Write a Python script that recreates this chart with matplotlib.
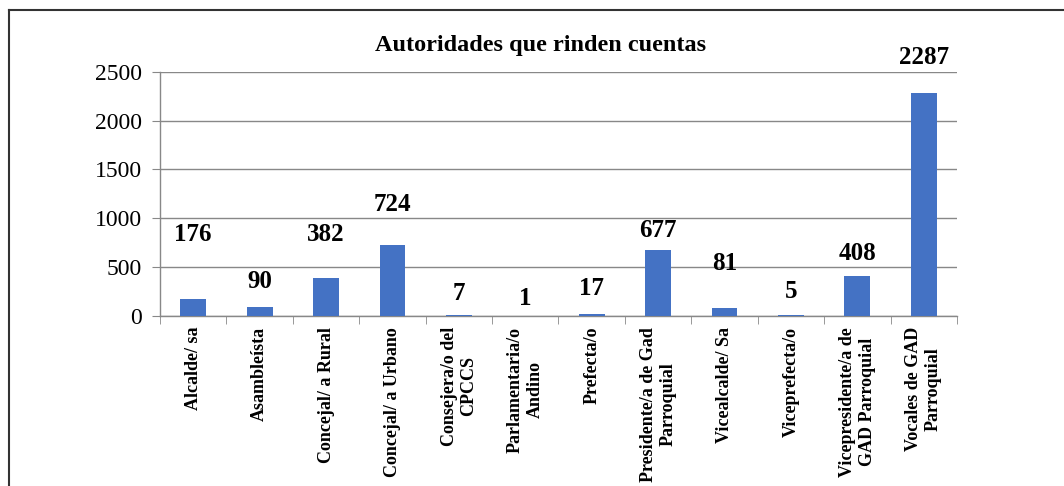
import matplotlib
matplotlib.use("Agg")
import matplotlib.pyplot as plt
from matplotlib.lines import Line2D

categories = ["Alcalde/ sa", "Asambleísta", "Concejal/ a Rural", "Concejal/ a Urbano",
              "Consejera/o del\nCPCCS", "Parlamentaria/o\nAndino", "Prefecta/o",
              "Presidente/a de Gad\nParroquial", "Vicealcalde/ Sa", "Viceprefecta/o",
              "Vicepresidente/a de\nGAD Parroquial", "Vocales de GAD\nParroquial"]
values = [176, 90, 382, 724, 7, 1, 17, 677, 81, 5, 408, 2287]
# where each value label sits (data units), as placed in the original
label_y = [828, 349, 828, 1136, 230, 178, 281, 879, 537, 246, 633, 2651]

plt.rcParams["font.family"] = ["Liberation Serif", "DejaVu Serif"]

fig = plt.figure(figsize=(10.64, 4.86), dpi=100)
ax = fig.add_axes([0.1504, 0.3504, 0.7490, 0.5015])

x = list(range(len(values)))
ax.bar(x, values, width=0.39, color="#4472C4", zorder=3)
for xi, v, ly in zip(x, values, label_y):
    ax.text(xi, ly, str(v), ha="center", va="center", fontsize=18, fontweight="bold", zorder=4)

ax.set_xlim(-0.5, len(values) - 0.5)
ax.set_ylim(0, 2500)
ax.set_yticks(range(0, 2501, 500))
ax.tick_params(axis="y", labelsize=17, length=6, color="#888888", pad=7)
ax.yaxis.grid(True, color="#888888", linewidth=1, zorder=0)

ax.set_xticks(x)
ax.set_xticklabels(categories, rotation=90, fontsize=13, fontweight="bold",
                   ha="center", va="top", multialignment="center")
ax.tick_params(axis="x", length=0, pad=8)
ax.set_xticks([i - 0.5 for i in range(len(values) + 1)], minor=True)
ax.tick_params(axis="x", which="minor", length=6, color="#888888")

for s in ("top", "right"):
    ax.spines[s].set_visible(False)
for s in ("left", "bottom"):
    ax.spines[s].set_color("#888888")
    ax.spines[s].set_linewidth(1)

fig.text(0.508, 0.907, "Autoridades que rinden cuentas", ha="center", va="center",
         fontsize=17.5, fontweight="bold")

# outer frame: top and left edges only
fig.add_artist(Line2D([9 / 1064, 1], [1 - 10.5 / 486] * 2, color="#333333", linewidth=1.5))
fig.add_artist(Line2D([9 / 1064] * 2, [0, 1 - 10.5 / 486], color="#333333", linewidth=1.5))

fig.savefig("out.png", dpi=100)
